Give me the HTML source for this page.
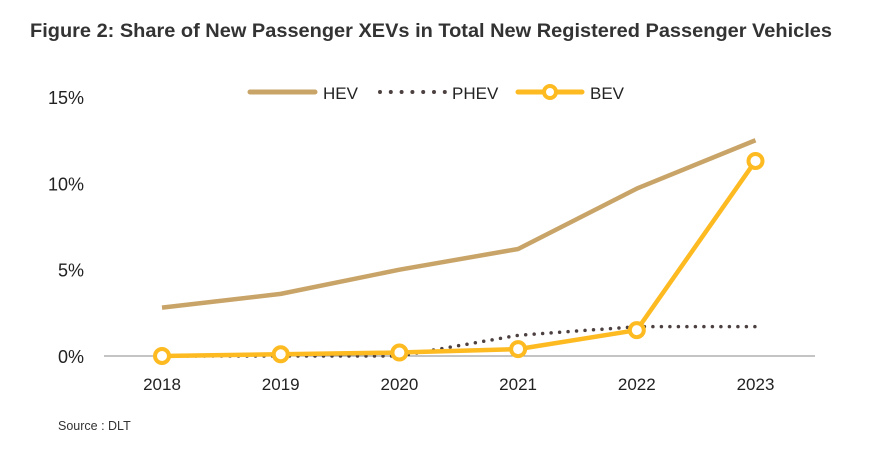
<!DOCTYPE html>
<html><head><meta charset="utf-8"><style>
body{margin:0;background:#fff;width:870px;height:445px;overflow:hidden;font-family:"Liberation Sans",sans-serif}
</style></head><body>
<svg id="chart" width="870" height="445" xmlns="http://www.w3.org/2000/svg">
<text x="30" y="37" textLength="802" lengthAdjust="spacingAndGlyphs" font-size="19.5" font-weight="bold" fill="#333">Figure 2: Share of New Passenger XEVs in Total New Registered Passenger Vehicles</text>
<g id="legend">
<line x1="250" y1="92" x2="315" y2="92" stroke="#C9A468" stroke-width="5" stroke-linecap="round"/>
<text x="323" y="99" font-size="17" fill="#222">HEV</text>
<line x1="380" y1="92" x2="445" y2="92" stroke="#4d4040" stroke-width="4" stroke-linecap="round" stroke-dasharray="0 10.8"/>
<text x="452" y="99" font-size="17" fill="#222">PHEV</text>
<line x1="518" y1="92" x2="582" y2="92" stroke="#FDBA21" stroke-width="5" stroke-linecap="round"/>
<circle cx="550" cy="92" r="6" fill="#fff" stroke="#FDBA21" stroke-width="4"/>
<text x="590" y="99" font-size="17" fill="#222">BEV</text>
</g>
<g id="axes"></g><g id="series"></g>
<text x="58" y="430" font-size="12.5" fill="#333">Source : DLT</text>
</svg>
<script>
const categories=["2018","2019","2020","2021","2022","2023"];
const hev=[2.8,3.6,5.0,6.2,9.7,12.5];
const phev=[0,0,0,1.2,1.7,1.7];
const bev=[0,0.1,0.2,0.4,1.5,11.3];
const yTicks=[0,5,10,15];
const NS="http://www.w3.org/2000/svg";
const x=i=>162+i*118.7;
const y=v=>356-v*17.26;
function mk(t,a,p){const e=document.createElementNS(NS,t);for(const k in a)e.setAttribute(k,a[k]);p.appendChild(e);return e;}
const ax=document.getElementById('axes'),se=document.getElementById('series');
const base=mk('line',{x1:104,x2:815,y1:y(0),y2:y(0),stroke:'#888','stroke-width':1},ax);


yTicks.forEach(t=>{const e=mk('text',{x:84,y:y(t)+7,'text-anchor':'end','font-size':18,fill:'#222'},ax);e.textContent=t+'%';

});
categories.forEach((c,i)=>{const e=mk('text',{x:x(i),y:390,'text-anchor':'middle','font-size':17,fill:'#222'},ax);e.textContent=c;

});
const pts=a=>a.map((v,i)=>x(i)+','+y(v)).join(' ');
const l1=mk('polyline',{points:pts(hev),fill:'none',stroke:'#C9A468','stroke-width':4.5,'stroke-linejoin':'round'},se);


const l2=mk('polyline',{points:pts(phev),fill:'none',stroke:'#4d4040','stroke-width':3.5,'stroke-linecap':'round','stroke-dasharray':'0 8.5'},se);


const l3=mk('polyline',{points:pts(bev),fill:'none',stroke:'#FDBA21','stroke-width':4.5,'stroke-linejoin':'round'},se);


bev.forEach((v,i)=>{const c=mk('circle',{cx:x(i),cy:y(v),r:7,fill:'#fff',stroke:'#FDBA21','stroke-width':4},se);

});
</script>
</body></html>
